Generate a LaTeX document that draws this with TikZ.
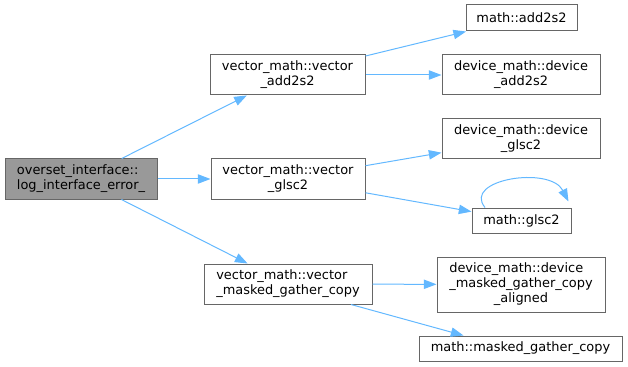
\documentclass[tikz,border=0pt]{standalone}
\usepackage{fontspec}
\setmainfont{DejaVu Sans}
\usepackage{calc}
\usetikzlibrary{arrows.meta,calc}
\definecolor{edgeblue}{HTML}{63B8FF}
\definecolor{boxline}{HTML}{666666}
\definecolor{rootfill}{HTML}{999999}
\begin{document}
\begin{tikzpicture}[x=0.75pt,y=-0.75pt,
  box/.style 2 args={draw=boxline, line width=0.75pt, fill=white, inner sep=0pt,
    align=center, font=\fontsize{9.7}{11.25}\selectfont,
    minimum width=#1*0.75pt, minimum height=#2*0.75pt},
  edge/.style={draw=edgeblue, line width=0.75pt, -{Triangle[length=9.5pt,width=7pt]}}]
\useasboundingbox (0,0) rectangle (628,367);
\node[box={152}{40}, fill=rootfill] (root) at (81,179)
  {\makebox[\widthof{log\_interface\_error\_}][l]{overset\_interface::}\\log\_interface\_error\_};
\node[box={155}{40}] (vadd) at (287.5,75) {vector\_math::vector\\\_add2s2};
\node[box={111}{26}] (madd) at (521.5,18) {math::add2s2};
\node[box={158}{40}] (dadd) at (521,75) {device\_math::device\\\_add2s2};
\node[box={154}{40}] (vglsc) at (288,179) {vector\_math::vector\\\_glsc2};
\node[box={158}{40}] (dglsc) at (521,139) {device\_math::device\\\_glsc2};
\node[box={99}{25}] (mglsc) at (521.5,220.5) {math::glsc2};
\node[box={168}{40}] (vmask) at (288,284)
  {\makebox[\widthof{\_masked\_gather\_copy}][l]{vector\_math::vector}\\\_masked\_gather\_copy};
\node[box={168}{55}] (dalign) at (521,284.5)
  {\makebox[\widthof{\_masked\_gather\_copy}][l]{device\_math::device}\\\_masked\_gather\_copy\\\_aligned};
\node[box={203}{25}] (mmask) at (520.5,348.5) {math::masked\_gather\_copy};
\draw[edge] (root) -- (vadd);
\draw[edge] (root) -- (vglsc);
\draw[edge] (root) -- (vmask);
\draw[edge] (vadd) -- (madd);
\draw[edge] (vadd) -- (dadd);
\draw[edge] (vglsc) -- (dglsc);
\draw[edge] (vglsc) -- (mglsc);
\draw[edge] ($(mglsc.north)+(-36.5,0)$) .. controls ($(mglsc.north)+(-59.5,-28)$) and ($(mglsc.north)+(28.5,-42)$) .. ($(mglsc.north)+(47,-6)$);
\draw[edge] (vmask) -- (dalign);
\draw[edge] ($(vmask.south)+(63,0)$) -- ($(mmask.north)+(-57,0)$);
\end{tikzpicture}
\end{document}
